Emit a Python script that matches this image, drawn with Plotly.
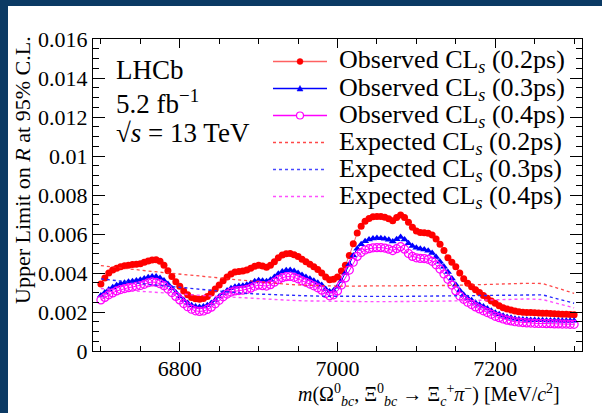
import plotly.graph_objects as go

# ---------------- data ----------------
mass_obs = list(range(6700, 7301, 5))

obs_02 = [0.00344, 0.00375, 0.00400, 0.00415, 0.00425, 0.00432, 0.00437, 0.00440, 0.00443, 0.00445,
          0.00448, 0.00455, 0.00462, 0.00467, 0.00468, 0.00460, 0.00440, 0.00412, 0.00382, 0.00355,
          0.00332, 0.00308, 0.00288, 0.00275, 0.00268, 0.00266, 0.00269, 0.00280, 0.00297, 0.00318,
          0.00338, 0.00360, 0.00380, 0.00395, 0.00405, 0.00408, 0.00410, 0.00415, 0.00424, 0.00435,
          0.00440, 0.00436, 0.00430, 0.00440, 0.00458, 0.00478, 0.00492, 0.00499, 0.00500, 0.00494,
          0.00484, 0.00470, 0.00458, 0.00445, 0.00432, 0.00418, 0.00400, 0.00380, 0.00366, 0.00368,
          0.00380, 0.00410, 0.00440, 0.00490, 0.00550, 0.00605, 0.00640, 0.00665, 0.00680, 0.00688,
          0.00690, 0.00690, 0.00686, 0.00678, 0.00668, 0.00685, 0.00697, 0.00685, 0.00660, 0.00635,
          0.00615, 0.00608, 0.00606, 0.00604, 0.00595, 0.00575, 0.00548, 0.00515, 0.00478, 0.00455,
          0.00432, 0.00400, 0.00370, 0.00348, 0.00330, 0.00314, 0.00300, 0.00285, 0.00270, 0.00257,
          0.00245, 0.00232, 0.00222, 0.00215, 0.00210, 0.00205, 0.00201, 0.00199, 0.00198, 0.00197,
          0.00196, 0.00195, 0.00194, 0.00193, 0.00192, 0.00191, 0.00190, 0.00189, 0.00188, 0.00187,
          0.00186]

obs_03 = [0.00285, 0.00300, 0.00315, 0.00327, 0.00337, 0.00345, 0.00350, 0.00355, 0.00358, 0.00362,
          0.00366, 0.00372, 0.00378, 0.00382, 0.00382, 0.00375, 0.00362, 0.00343, 0.00322, 0.00300,
          0.00280, 0.00262, 0.00246, 0.00235, 0.00228, 0.00226, 0.00228, 0.00235, 0.00246, 0.00262,
          0.00280, 0.00297, 0.00310, 0.00322, 0.00330, 0.00333, 0.00335, 0.00340, 0.00348, 0.00358,
          0.00363, 0.00360, 0.00358, 0.00366, 0.00380, 0.00396, 0.00408, 0.00414, 0.00415, 0.00410,
          0.00400, 0.00390, 0.00380, 0.00370, 0.00360, 0.00350, 0.00338, 0.00318, 0.00305, 0.00310,
          0.00330, 0.00360, 0.00400, 0.00445, 0.00490, 0.00525, 0.00548, 0.00563, 0.00572, 0.00577,
          0.00579, 0.00578, 0.00576, 0.00570, 0.00562, 0.00573, 0.00585, 0.00572, 0.00552, 0.00538,
          0.00530, 0.00524, 0.00520, 0.00514, 0.00502, 0.00482, 0.00458, 0.00432, 0.00405, 0.00372,
          0.00340, 0.00310, 0.00288, 0.00272, 0.00260, 0.00248, 0.00237, 0.00228, 0.00218, 0.00206,
          0.00196, 0.00188, 0.00181, 0.00175, 0.00170, 0.00166, 0.00163, 0.00161, 0.00160, 0.00159,
          0.00159, 0.00158, 0.00158, 0.00157, 0.00157, 0.00156, 0.00156, 0.00155, 0.00155, 0.00155,
          0.00155]

obs_04 = [0.00262, 0.00275, 0.00288, 0.00298, 0.00308, 0.00315, 0.00320, 0.00325, 0.00328, 0.00332,
          0.00336, 0.00342, 0.00350, 0.00354, 0.00352, 0.00345, 0.00335, 0.00318, 0.00300, 0.00280,
          0.00262, 0.00243, 0.00227, 0.00214, 0.00206, 0.00203, 0.00205, 0.00213, 0.00225, 0.00242,
          0.00260, 0.00278, 0.00292, 0.00302, 0.00308, 0.00310, 0.00312, 0.00316, 0.00322, 0.00332,
          0.00338, 0.00335, 0.00333, 0.00340, 0.00353, 0.00366, 0.00376, 0.00381, 0.00382, 0.00378,
          0.00370, 0.00360, 0.00352, 0.00343, 0.00334, 0.00324, 0.00312, 0.00295, 0.00283, 0.00288,
          0.00308, 0.00338, 0.00375, 0.00415, 0.00455, 0.00485, 0.00505, 0.00518, 0.00525, 0.00529,
          0.00530, 0.00530, 0.00528, 0.00522, 0.00515, 0.00525, 0.00535, 0.00522, 0.00500, 0.00485,
          0.00478, 0.00475, 0.00474, 0.00470, 0.00460, 0.00442, 0.00420, 0.00395, 0.00368, 0.00338,
          0.00308, 0.00282, 0.00265, 0.00250, 0.00238, 0.00226, 0.00216, 0.00206, 0.00197, 0.00188,
          0.00178, 0.00171, 0.00164, 0.00158, 0.00154, 0.00150, 0.00148, 0.00146, 0.00144, 0.00143,
          0.00142, 0.00141, 0.00141, 0.00140, 0.00140, 0.00139, 0.00139, 0.00138, 0.00138, 0.00137,
          0.00137]

mass_exp = list(range(6700, 7301, 20))

exp_02 = [0.00438, 0.00428, 0.00419, 0.00410, 0.00402, 0.00395, 0.00387, 0.00379, 0.00370, 0.00362,
          0.00354, 0.00347, 0.00341, 0.00337, 0.00334, 0.00333, 0.00333, 0.00333, 0.00333, 0.00333,
          0.00334, 0.00335, 0.00336, 0.00338, 0.00341, 0.00344, 0.00346, 0.00347, 0.00346, 0.00322,
          0.00296]
exp_03 = [0.00370, 0.00360, 0.00350, 0.00342, 0.00334, 0.00326, 0.00318, 0.00310, 0.00302, 0.00296,
          0.00292, 0.00288, 0.00285, 0.00283, 0.00281, 0.00280, 0.00280, 0.00280, 0.00280, 0.00280,
          0.00281, 0.00282, 0.00283, 0.00284, 0.00285, 0.00287, 0.00289, 0.00290, 0.00288, 0.00266,
          0.00245]
exp_04 = [0.00320, 0.00314, 0.00308, 0.00302, 0.00297, 0.00292, 0.00287, 0.00282, 0.00277, 0.00272,
          0.00268, 0.00264, 0.00260, 0.00257, 0.00255, 0.00254, 0.00253, 0.00253, 0.00253, 0.00253,
          0.00254, 0.00255, 0.00256, 0.00258, 0.00260, 0.00263, 0.00266, 0.00267, 0.00264, 0.00242,
          0.00221]

y_tickvals = [0, 0.002, 0.004, 0.006, 0.008, 0.01, 0.012, 0.014, 0.016]
y_ticktext = ["0", "0.002", "0.004", "0.006", "0.008", "0.01", "0.012", "0.014", "0.016"]
x_tickvals = [6800, 7000, 7200]
x_ticktext = ["6800", "7000", "7200"]

legend_labels = [
    "Observed CL<sub><i>s</i></sub> (0.2ps)",
    "Observed CL<sub><i>s</i></sub> (0.3ps)",
    "Observed CL<sub><i>s</i></sub> (0.4ps)",
    "Expected CL<sub><i>s</i></sub> (0.2ps)",
    "Expected CL<sub><i>s</i></sub> (0.3ps)",
    "Expected CL<sub><i>s</i></sub> (0.4ps)",
]

# ---------------- layout geometry ----------------
W, H = 602, 413
ML, MR, MT, MB = 93, 20, 39, 62
PW, PH = W - ML - MR, H - MT - MB
FONT = "Liberation Serif"

RED = "#ff0000"
BLUE = "#0000ff"
MAG = "#ff00ff"


def px(xp):
    return (xp - ML) / PW


def py(yp):
    return (H - MB - yp) / PH


fig = go.Figure()

# observed
fig.add_trace(go.Scatter(x=mass_obs, y=obs_02, mode="lines+markers",
                         line=dict(color="rgba(255,60,60,0.8)", width=1),
                         marker=dict(symbol="circle", size=7, color=RED),
                         showlegend=False))
fig.add_trace(go.Scatter(x=mass_obs, y=obs_03, mode="lines+markers",
                         line=dict(color=BLUE, width=1),
                         marker=dict(symbol="triangle-up", size=7, color=BLUE),
                         showlegend=False))
fig.add_trace(go.Scatter(x=mass_obs, y=obs_04, mode="lines+markers",
                         line=dict(color=MAG, width=1),
                         marker=dict(symbol="circle-open", size=8, color=MAG, line=dict(width=1.2, color=MAG)),
                         showlegend=False))
# expected
fig.add_trace(go.Scatter(x=mass_exp, y=exp_02, mode="lines",
                         line=dict(color="rgba(255,40,40,0.85)", width=1.3, dash="3px,3px"),
                         showlegend=False))
fig.add_trace(go.Scatter(x=mass_exp, y=exp_03, mode="lines",
                         line=dict(color="#2828ff", width=1.4, dash="3px,3px"),
                         showlegend=False))
fig.add_trace(go.Scatter(x=mass_exp, y=exp_04, mode="lines",
                         line=dict(color="rgba(255,60,255,0.9)", width=1.4, dash="3px,3px"),
                         showlegend=False))

shapes = []
annotations = []

# navy frame strips
shapes.append(dict(type="rect", xref="paper", yref="paper", x0=px(0), x1=px(8), y0=py(H), y1=py(0),
                   fillcolor="#0b3a64", line=dict(width=0), layer="above"))
shapes.append(dict(type="rect", xref="paper", yref="paper", x0=px(0), x1=px(W), y0=py(6), y1=py(0),
                   fillcolor="#0b3a64", line=dict(width=0), layer="above"))

# manual legend
leg_colors = ["rgba(255,80,80,0.9)", BLUE, MAG, "rgba(255,40,40,0.85)", "#4848ff", "rgba(255,60,255,0.9)"]
row_ys = [61.5, 88.5, 115.5, 142.5, 169.5, 196.5]
for i, lab in enumerate(legend_labels):
    yy = row_ys[i]
    dash = "solid" if i < 3 else "3px,3px"
    shapes.append(dict(type="line", xref="paper", yref="paper", x0=px(273), x1=px(327),
                       y0=py(yy), y1=py(yy), line=dict(color=leg_colors[i], width=1.3, dash=dash),
                       layer="above"))
    annotations.append(dict(text=lab, xref="paper", yref="paper", x=px(337), y=py(yy),
                            xanchor="left", yanchor="middle", showarrow=False,
                            font=dict(family=FONT, size=26, color="black")))
# legend markers
yy = row_ys[0]
shapes.append(dict(type="circle", xref="paper", yref="paper", x0=px(297), x1=px(303),
                   y0=py(yy + 3), y1=py(yy - 3), fillcolor=RED, line=dict(color=RED, width=0.5), layer="above"))
yy = row_ys[1]
shapes.append(dict(type="path", xref="paper", yref="paper",
                   path=f"M {px(297)} {py(yy + 2.5)} L {px(303)} {py(yy + 2.5)} L {px(300)} {py(yy - 3)} Z",
                   fillcolor=BLUE, line=dict(color=BLUE, width=0.5), layer="above"))
yy = row_ys[2]
shapes.append(dict(type="circle", xref="paper", yref="paper", x0=px(296.5), x1=px(303.5),
                   y0=py(yy + 3.5), y1=py(yy - 3.5), fillcolor="white", line=dict(color=MAG, width=1.2),
                   layer="above"))

# LHCb labels
for txt, yy in [("LHCb", 70), ("5.2 fb<sup>−1</sup>", 102), ("√<i>s</i> = 13 TeV", 133)]:
    annotations.append(dict(text=txt, xref="paper", yref="paper", x=px(114), y=py(yy),
                            xanchor="left", yanchor="middle", showarrow=False,
                            font=dict(family=FONT, size=27, color="black")))

# axis titles
annotations.append(dict(text="Upper Limit on <i>R</i> at 95% C.L.", xref="paper", yref="paper",
                        x=px(22), y=py(34), xanchor="center", yanchor="top", textangle=-90,
                        showarrow=False, font=dict(family=FONT, size=22, color="black")))
annotations.append(dict(text="<i>m</i>(Ω<sup>0</sup><sub><i>bc</i></sub>, Ξ<sup>0</sup><sub><i>bc</i></sub> → "
                             "Ξ<sub><i>c</i></sub><sup>+</sup><i>π</i><sup>−</sup>) [MeV/<i>c</i><sup>2</sup>]",
                        xref="paper", yref="paper", x=px(562), y=py(395), xanchor="right", yanchor="middle",
                        showarrow=False, font=dict(family=FONT, size=20, color="black")))

fig.update_layout(
    width=W, height=H,
    margin=dict(l=ML, r=MR, t=MT, b=MB, pad=0),
    paper_bgcolor="white", plot_bgcolor="white",
    font=dict(family=FONT, size=22, color="black"),
    shapes=shapes, annotations=annotations,
    showlegend=False,
)
fig.update_xaxes(range=[6690, 7310], showgrid=False, zeroline=False,
                 showline=True, linecolor="black", linewidth=1.3, mirror="allticks",
                 ticks="inside", ticklen=9, tickwidth=1.2, tickcolor="black",
                 tickvals=x_tickvals, ticktext=x_ticktext, ticklabelstandoff=-3,
                 tickfont=dict(family=FONT, size=22, color="black"),
                 minor=dict(ticks="inside", ticklen=5, tickwidth=1, tickcolor="black", dtick=50, tick0=6700,
                            showgrid=False))
fig.update_yaxes(range=[0, 0.016], showgrid=False, zeroline=False,
                 showline=True, linecolor="black", linewidth=1.3, mirror="allticks",
                 ticks="inside", ticklen=12, tickwidth=1.2, tickcolor="black",
                 tickvals=y_tickvals, ticktext=y_ticktext,
                 tickfont=dict(family=FONT, size=22, color="black"),
                 minor=dict(ticks="inside", ticklen=6, tickwidth=1, tickcolor="black", dtick=0.0005, tick0=0,
                            showgrid=False))

fig.write_html("out.html", config={"displayModeBar": False},
               post_script="document.body.style.margin='0';document.body.style.overflow='hidden';")
